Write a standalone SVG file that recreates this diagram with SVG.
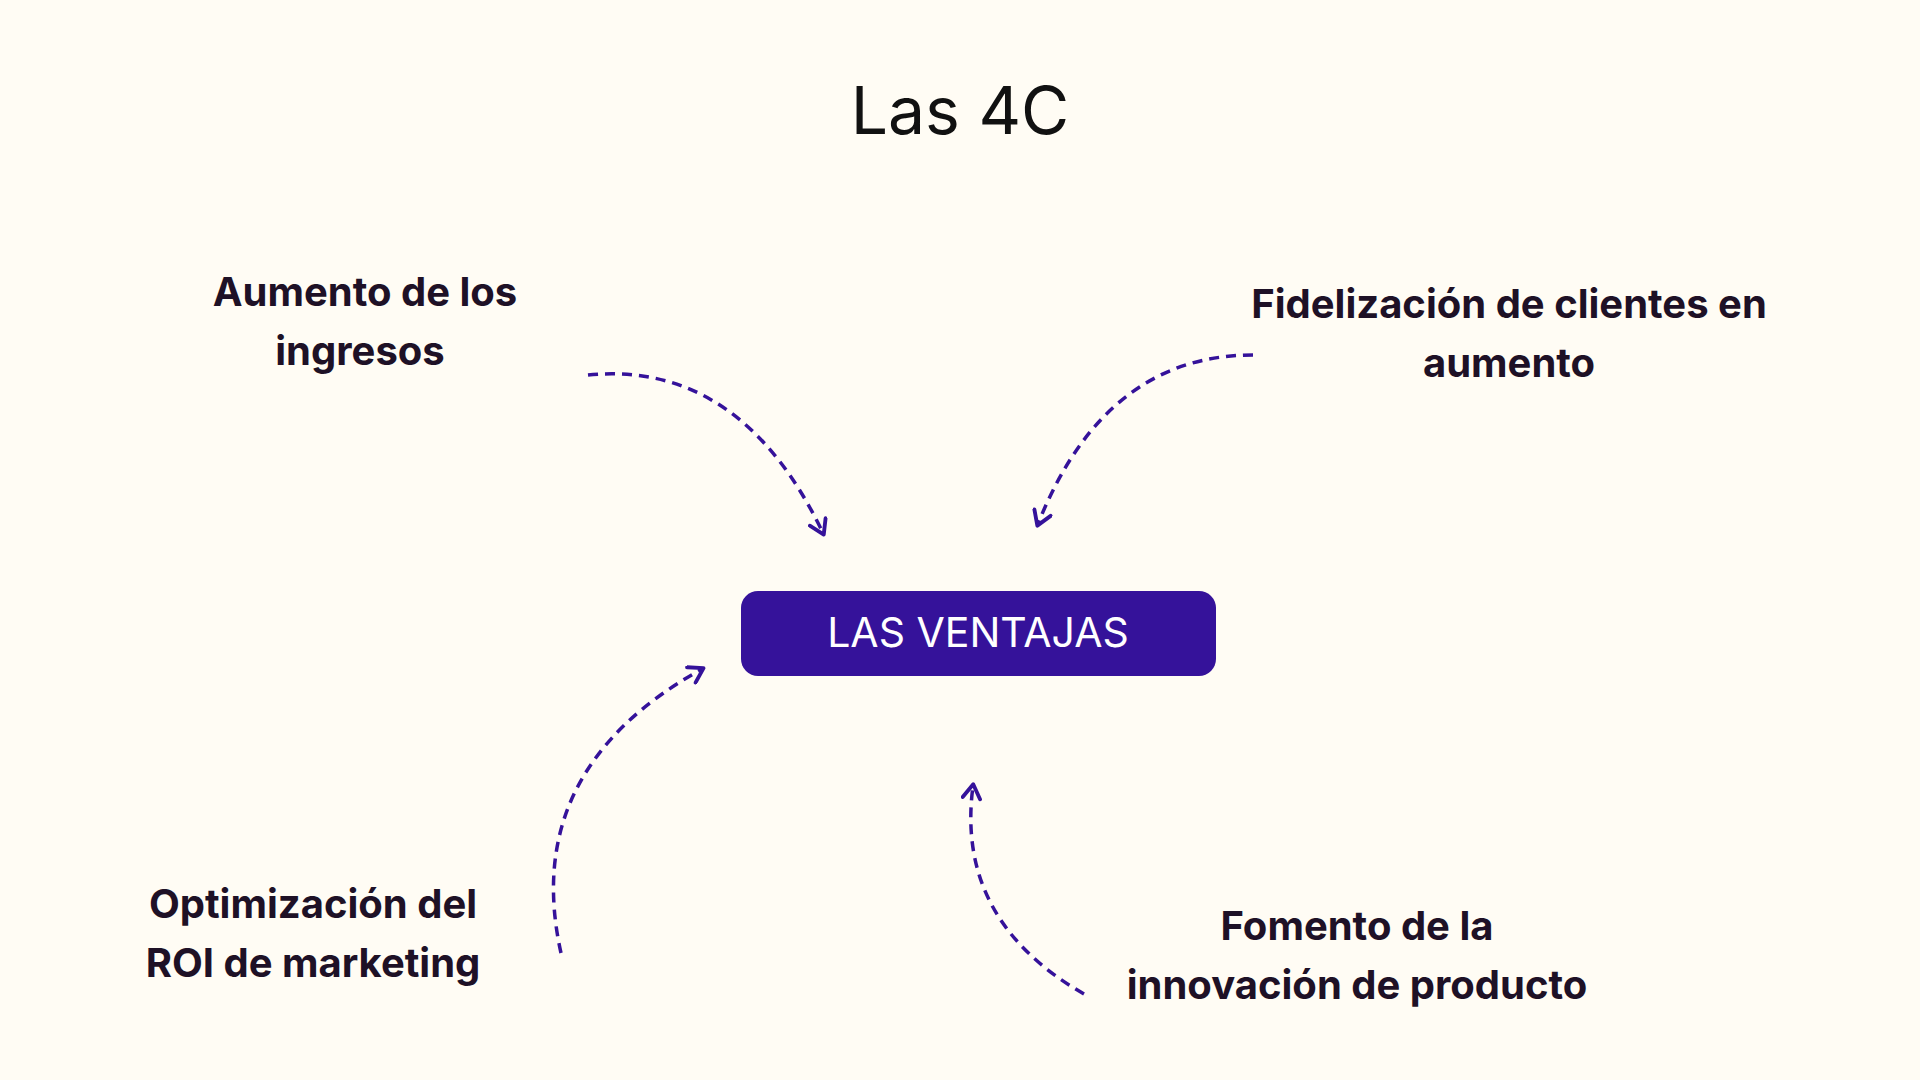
<svg xmlns="http://www.w3.org/2000/svg" width="1920" height="1080" viewBox="0 0 1920 1080">
<style>
.lbl{font-family:Inter,"Liberation Sans",sans-serif;font-weight:700;font-size:40px;fill:#1e1126;text-anchor:middle}
.arr{fill:none;stroke:#35129a;stroke-width:3.5;stroke-dasharray:10 7;marker-end:url(#ah)}
</style>
<defs>
<marker id="ah" viewBox="0 0 12 12" refX="9" refY="6" markerWidth="6" markerHeight="6" orient="auto" markerUnits="strokeWidth">
<path d="M2,1 L10,6 L2,11" fill="none" stroke="#35129a" stroke-width="2.2" stroke-linecap="round" stroke-linejoin="round"/>
</marker>
</defs>
<rect width="1920" height="1080" fill="#fffcf4"/>
<text x="960" y="134" font-family="Inter,'Liberation Sans',sans-serif" font-size="66" fill="#111" text-anchor="middle">Las 4C</text>
<g id="center">
<rect x="741" y="591" width="475" height="85" rx="17" fill="#35129a"/>
<text x="978" y="647" font-family="Inter,'Liberation Sans',sans-serif" font-size="41" fill="#fff" text-anchor="middle">LAS VENTAJAS</text>
</g>
<g id="n1"><text class="lbl" x="365" y="306">Aumento de los</text><text class="lbl" x="360" y="365">ingresos</text></g>
<g id="n2"><text class="lbl" x="1509" y="318">Fidelización de clientes en</text><text class="lbl" x="1509" y="377">aumento</text></g>
<g id="n3"><text class="lbl" x="313" y="918">Optimización del</text><text class="lbl" x="313" y="977">ROI de marketing</text></g>
<g id="n4"><text class="lbl" x="1357" y="940">Fomento de la</text><text class="lbl" x="1357" y="999">innovación de producto</text></g>
<g id="connectors">
<path class="arr" d="M588,375 Q740,360 823,533"/>
<path class="arr" d="M1253,355 Q1105,355 1038,524"/>
<path class="arr" d="M561,953 Q520,770 702,669"/>
<path class="arr" d="M1084,994 Q955,920 973,786"/>
</g>
</svg>
